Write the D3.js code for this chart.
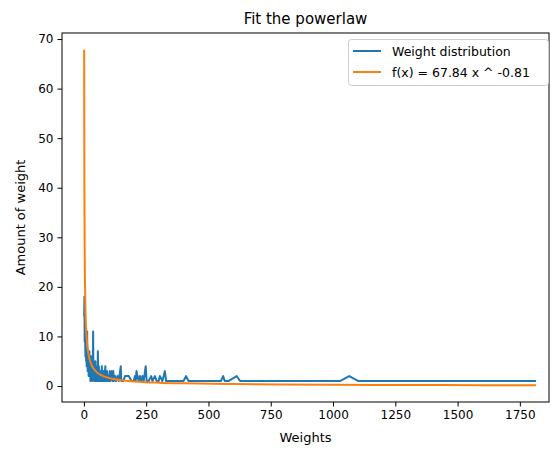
<!DOCTYPE html>
<html>
<head>
<meta charset="utf-8">
<script src="https://cdn.jsdelivr.net/npm/d3@7"></script>
<style>
  html, body { margin: 0; padding: 0; background: #fff; }
  text { font-family: "DejaVu Sans", sans-serif; fill: #000; }
</style>
</head>
<body>
<svg id="chart" width="551" height="449"></svg>
<script>
// ---- data ----
const weightX = [1,2,3,4,5,6,7,8,9,10,11,12,13,14,15,16,17,18,19,20,21,22,23,24,25,26,27,28,29,30,31,32,33,34,35,36,37,38,39,40,41,42,43,44,45,46,47,48,50,51,52,53,55,56,57,58,60,61,63,64,66,68,70,72,73,75,77,80,82,84,86,88,90,93,95,98,100,104,106,110,112,115,118,120,125,128,130,135,140,148,150,158,165,171,180,191,200,205,208,211,215,220,225,230,235,240,248,252,260,270,275,285,292,300,305,315,325,330,350,380,400,410,420,450,500,550,559,565,580,613,627,700,800,900,1028,1065,1102,1300,1500,1815];
const weightCount = [14,18,9,12,9,6,10,7,5,6,4,6,11,5,3,7,4,5,2,6,3,7,4,3,5,1,4,2,6,3,2,5,1,3,2,4,11,2,5,3,1,4,2,3,1,5,2,1,3,2,4,1,2,7,3,1,4,2,1,3,2,1,2,4,1,2,1,3,1,2,4,1,2,3,1,2,1,3,1,2,3,1,3,1,2,1,1,2,1,4,1,1,2,2,2,1,1,2,1,3,2,1,2,1,2,1,4,1,1,2,1,2,1,1,2,1,3,1,1,1,1,2,1,1,1,1,2,1,1,2,1,1,1,1,1,2,1,1,1,1];
const fitX = [1,1.5,2,3,4,5,7,10,15,20,30,40,60,80,100,150,200,300,400,600,800,1000,1300,1600,1815];
const fitY = [67.84,48.8,38.7,27.9,22.0,18.4,14.0,10.5,7.57,5.99,4.31,3.42,2.46,1.95,1.63,1.17,0.93,0.67,0.53,0.38,0.30,0.25,0.204,0.172,0.155];
const xTicks = [0,250,500,750,1000,1250,1500,1750];
const yTicks = [0,10,20,30,40,50,60,70];
const seriesNames = ["Weight distribution", "f(x) = 67.84 x ^ -0.81"];
const seriesColors = ["#1f77b4", "#ff7f0e"];

// ---- layout ----
const L = 62, R = 549, T = 33, B = 402;
const svg = d3.select("#chart");

const x = d3.scaleLinear().domain([-88, 1867]).range([L, R]);
const y = d3.scaleLinear().domain([-3.23, 71.22]).range([B, T]);

const clip = svg.append("clipPath").attr("id", "clip")
  .append("rect").attr("x", L).attr("y", T).attr("width", R - L).attr("height", B - T);

const line = d3.line().x(d => x(d[0])).y(d => y(d[1]));
const blueData = weightX.map((v, i) => [v, weightCount[i]]);
const orangeData = fitX.map((v, i) => [v, fitY[i]]);

const g = svg.append("g").attr("clip-path", "url(#clip)");
g.append("path").datum(blueData).attr("d", line)
  .attr("fill", "none").attr("stroke", seriesColors[0]).attr("stroke-width", 2)
  .attr("stroke-linejoin", "round");
g.append("path").datum(orangeData).attr("d", d3.line().curve(d3.curveMonotoneX).x(d => x(d[0])).y(d => y(d[1])))
  .attr("fill", "none").attr("stroke", seriesColors[1]).attr("stroke-width", 2)
  .attr("stroke-linejoin", "round");

// axes
const xAxis = svg.append("g").attr("transform", `translate(0,${B})`)
  .call(d3.axisBottom(x).tickValues(xTicks).tickSize(4.5).tickPadding(4).tickFormat(d3.format("d")));
const yAxis = svg.append("g").attr("transform", `translate(${L},0)`)
  .call(d3.axisLeft(y).tickValues(yTicks).tickSize(4.5).tickPadding(4).tickFormat(d3.format("d")));
[xAxis, yAxis].forEach(a => {
  a.select(".domain").remove();
  a.selectAll(".tick line").attr("stroke", "#000").attr("stroke-width", 1);
  a.selectAll(".tick text").attr("font-size", 12).attr("font-family", "DejaVu Sans").attr("fill", "#000");
});

// frame
svg.append("rect").attr("x", L).attr("y", T).attr("width", R - L).attr("height", B - T)
  .attr("fill", "none").attr("stroke", "#000").attr("stroke-width", 1);

// labels
svg.append("text").attr("x", (L + R) / 2).attr("y", 24).attr("text-anchor", "middle")
  .attr("font-size", 15).text("Fit the powerlaw");
svg.append("text").attr("x", (L + R) / 2).attr("y", 442).attr("text-anchor", "middle")
  .attr("font-size", 13).text("Weights");
svg.append("text").attr("transform", `translate(25,${(T + B) / 2}) rotate(-90)`)
  .attr("text-anchor", "middle").attr("font-size", 13).text("Amount of weight");

// legend
const lg = svg.append("g");
lg.append("rect").attr("x", 348.5).attr("y", 39.5).attr("width", 200).attr("height", 46)
  .attr("rx", 3).attr("fill", "#fff").attr("fill-opacity", 0.8).attr("stroke", "#ccc");
seriesNames.forEach((name, i) => {
  const yy = 51 + i * 21;
  lg.append("line").attr("x1", 353).attr("x2", 381).attr("y1", yy).attr("y2", yy)
    .attr("stroke", seriesColors[i]).attr("stroke-width", 2);
  lg.append("text").attr("x", 392).attr("y", yy + 4.5).attr("font-size", 12.5).text(name);
});
</script>
</body>
</html>
